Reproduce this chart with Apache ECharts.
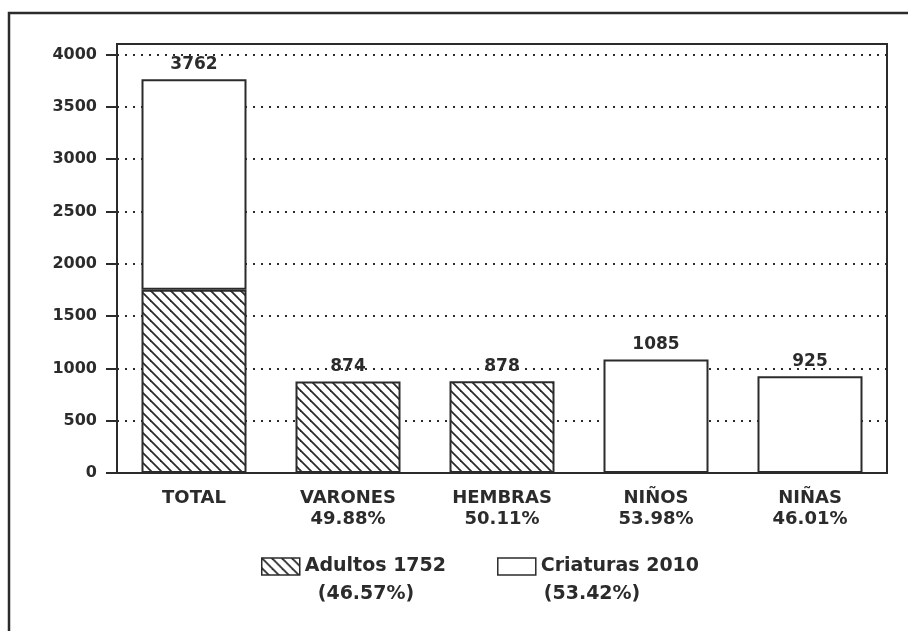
<!DOCTYPE html>
<html><head><meta charset="utf-8">
<script src="https://cdn.jsdelivr.net/npm/echarts@6/dist/echarts.min.js"></script>
<style>html,body{margin:0;padding:0;background:#fff}#c{width:908px;height:631px}</style>
</head><body><div id="c"></div>
<script>
var categories = ['TOTAL', 'VARONES', 'HEMBRAS', 'NIÑOS', 'NIÑAS'];
var categoryPercents = ['', '49.88%', '50.11%', '53.98%', '46.01%'];
var adultos = [1752, 874, 878, null, null];
var criaturas = [2010, null, null, 1085, 925];
var valueLabels = ['3762', '874', '878', '1085', '925'];
var seriesNames = ['Adultos 1752', 'Criaturas 2010'];
var seriesPercents = ['(46.57%)', '(53.42%)'];
var yTicks = [0, 500, 1000, 1500, 2000, 2500, 3000, 3500, 4000];

var INK = '#2b2b2b';
var FONT = 'DejaVu Sans';

function hatch() {
  var s = 10;
  var cv = document.createElement('canvas');
  cv.width = s; cv.height = s;
  var g = cv.getContext('2d');
  g.fillStyle = '#fff'; g.fillRect(0, 0, s, s);
  g.strokeStyle = INK; g.lineWidth = 1.8;
  for (var k = -1; k <= 1; k++) {
    g.beginPath(); g.moveTo(-1, k * s - 1); g.lineTo(s + 1, s + k * s + 1); g.stroke();
  }
  return cv;
}
var hatchColor = { image: hatch(), repeat: 'repeat' };

function topIndexOf(i) { return criaturas[i] != null ? 1 : 0; }
function buildData(arr, seriesIdx) {
  return arr.map(function (v, i) {
    if (v == null) return '-';
    var show = topIndexOf(i) === seriesIdx;
    return { value: v, label: { show: show, formatter: valueLabels[i] } };
  });
}

var chart = echarts.init(document.getElementById('c'));
chart.setOption({
  backgroundColor: '#fff',
  animation: false,
  graphic: [{ type: 'rect', shape: { x: 9, y: 13, width: 1000, height: 700 },
    style: { fill: null, stroke: INK, lineWidth: 2.5 }, silent: true }],
  grid: { left: 117, right: 21, top: 44, bottom: 158, show: true, borderColor: INK, borderWidth: 2, backgroundColor: 'transparent' },
  xAxis: {
    type: 'category', data: categories,
    axisLine: { lineStyle: { color: INK, width: 2 } },
    axisTick: { show: false },
    axisLabel: {
      color: INK, fontFamily: FONT, fontWeight: 'bold', fontSize: 18, lineHeight: 21, margin: 15,
      formatter: function (v, i) { return categoryPercents[i] ? v + '\n' + categoryPercents[i] : v; }
    }
  },
  yAxis: {
    type: 'value', min: 0, max: 4100, interval: 500,
    axisLine: { show: true, lineStyle: { color: INK, width: 2 } },
    axisTick: { show: true, length: 11, lineStyle: { color: INK, width: 2 }, customValues: yTicks },
    axisLabel: { color: INK, fontFamily: FONT, fontWeight: 'bold', fontSize: 16, margin: 20, customValues: yTicks,
      formatter: function (v) { return String(v); } },
    splitLine: { show: true, lineStyle: { color: INK, width: 2, type: [2, 6] } }
  },
  legend: {
    left: 256, top: 552, itemWidth: 38, itemHeight: 17, itemGap: 51,
    icon: 'rect',
    data: seriesNames,
    itemStyle: { borderColor: INK, borderWidth: 1.5 },
    formatter: function (name) {
      var i = seriesNames.indexOf(name);
      return '{a|' + name + '}\n{b' + i + '|' + seriesPercents[i] + '}';
    },
    textStyle: {
      color: INK, fontFamily: FONT, fontWeight: 'bold', fontSize: 19,
      padding: [28, 0, 0, 0],
      rich: {
        a: { color: INK, fontFamily: FONT, fontWeight: 'bold', fontSize: 19, lineHeight: 28 },
        b0: { color: INK, fontFamily: FONT, fontWeight: 'bold', fontSize: 19, lineHeight: 28, padding: [0, 0, 0, 13] },
        b1: { color: INK, fontFamily: FONT, fontWeight: 'bold', fontSize: 19, lineHeight: 28, padding: [0, 0, 0, 3] }
      }
    }
  },
  series: [
    { name: seriesNames[0], type: 'bar', stack: 's', barWidth: 105,
      itemStyle: { color: hatchColor, borderColor: INK, borderWidth: 2 },
      label: { position: 'top', distance: 6, color: INK, fontFamily: FONT, fontWeight: 'bold', fontSize: 17 },
      data: buildData(adultos, 0) },
    { name: seriesNames[1], type: 'bar', stack: 's', barWidth: 105,
      itemStyle: { color: '#fff', borderColor: INK, borderWidth: 2 },
      label: { position: 'top', distance: 6, color: INK, fontFamily: FONT, fontWeight: 'bold', fontSize: 17 },
      data: buildData(criaturas, 1) }
  ]
});
</script></body></html>
